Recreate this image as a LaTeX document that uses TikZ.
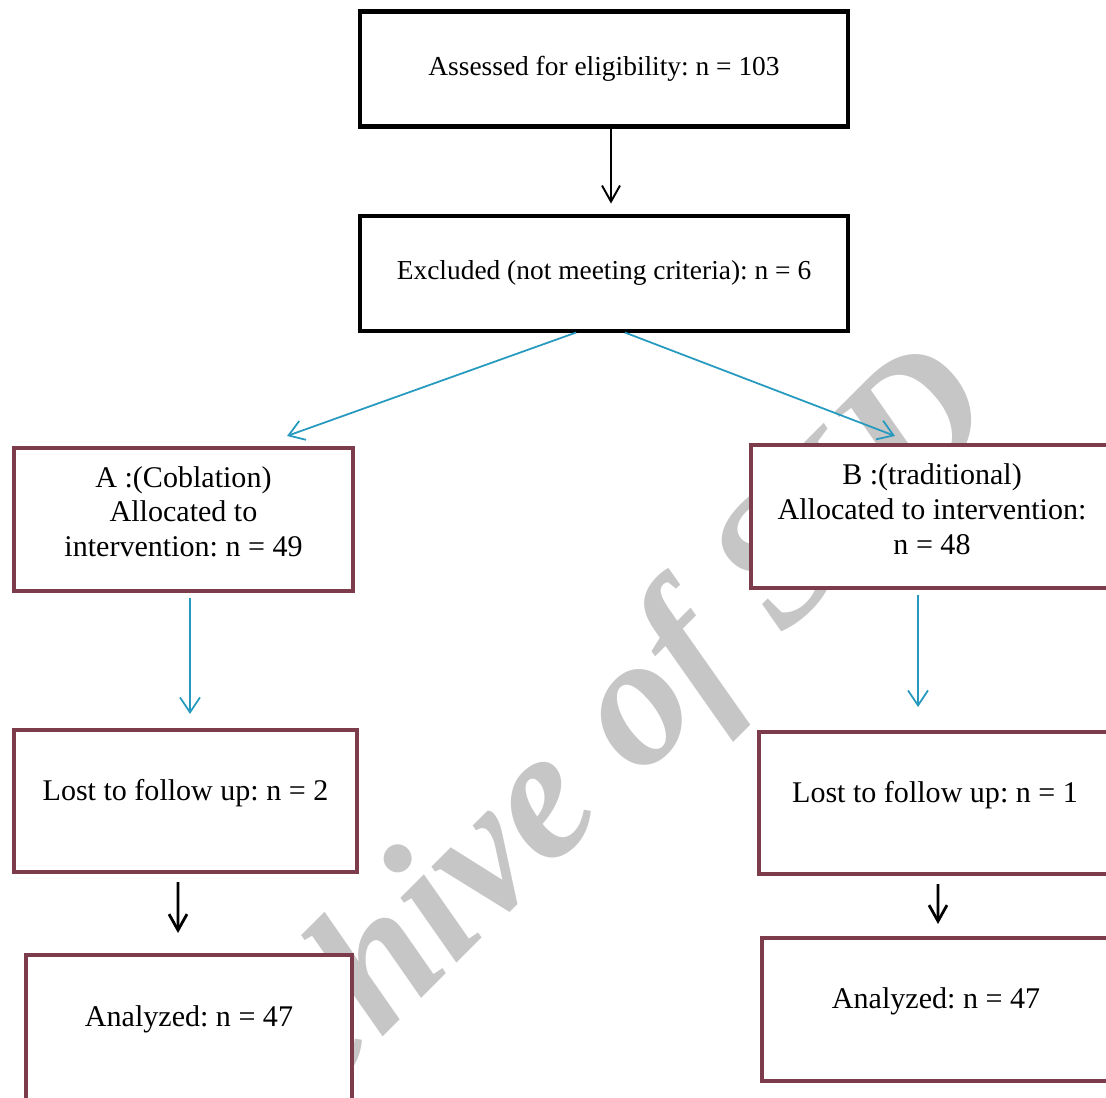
\documentclass[tikz,border=0pt]{standalone}
\usepackage{fontspec}
\setmainfont{Liberation Serif}
\usetikzlibrary{
    arrows.meta,
    positioning,
}
\frenchspacing
\definecolor{StageRed}{RGB}{125,60,75}
\definecolor{FlowTeal}{RGB}{38,154,190}
\definecolor{MarkGray}{RGB}{198,198,198}
\tikzstyle{gate}=[draw=black,fill=white,rectangle,line width=2.3pt,inner sep=0pt,minimum width=9.76cm,minimum height=2.3cm,font=\fontsize{15.6}{18}\selectfont]
\tikzstyle{stage}=[draw=StageRed,fill=white,rectangle,line width=2.3pt,inner sep=0pt]
\tikzstyle{stage_text}=[align=center,inner sep=0pt,font=\fontsize{17.1}{19.9}\selectfont]
\tikzstyle{split}=[FlowTeal,line width=1pt,-{Straight Barb[length=3mm,width=4mm]}]
\tikzstyle{drop}=[black,line width=1.1pt,-{Straight Barb[length=3.2mm,width=3.6mm]}]
\tikzstyle{watermark}=[MarkGray,anchor=base,rotate=45,inner sep=0pt,font=\fontsize{106}{106}\selectfont\bfseries\itshape]
\tikzset{
    >=latex
}
\newcommand{\Stage}[3][]{%
    \node[stage,#1] (#2) {};
    \node[stage_text] (#2 text) at ([yshift=1.55mm]#2.center) {#3};
}

\begin{document}
\begin{tikzpicture}
    \useasboundingbox (0,0) rectangle (22.12,-21.94);
    \clip (0,0) rectangle (22.12,-21.94);

    % watermark behind the boxes
    \node[watermark] (sid mark) at (11.85,-16.55) {Archive of SID};

    % screening
    \node[gate] (Assessed) at (12.08,-1.38) {Assessed for eligibility: n = 103};
    \node[gate,below=1.7cm of Assessed] (Excluded) {Excluded (not meeting criteria): n = 6};

    % groups
    \Stage[at={(3.67,-10.39)},minimum width=6.78cm,minimum height=2.86cm]{Coblation}{A :(Coblation)\\Allocated to\\intervention: n = 49};
    \Stage[at={(18.64,-10.33)},minimum width=7.24cm,minimum height=2.86cm]{Traditional}{B :(traditional)\\Allocated to intervention:\\n = 48};
    \Stage[at={(3.71,-16.02)},minimum width=6.86cm,minimum height=2.84cm]{Lost A}{Lost to follow up: n = 2};
    \Stage[at={(18.70,-16.06)},minimum width=7.04cm,minimum height=2.84cm]{Lost B}{Lost to follow up: n = 1};
    \Stage[at={(3.78,-20.55)},minimum width=6.52cm,minimum height=2.9cm]{Analyzed A}{Analyzed: n = 47};
    \Stage[at={(18.72,-20.19)},minimum width=6.96cm,minimum height=2.86cm]{Analyzed B}{Analyzed: n = 47};

    \draw[drop] ([xshift=1.4mm]Assessed.south) -- ([xshift=1.4mm,yshift=2mm]Excluded.north);
    \draw[split] ([xshift=-5.6mm]Excluded.south) -- ([xshift=20.7mm,yshift=2mm]Coblation.north);
    \draw[split] ([xshift=4.2mm]Excluded.south) -- ([xshift=-7.4mm,yshift=1.4mm]Traditional.north);
    \draw[split] ([xshift=1.3mm,yshift=-1mm]Coblation.south) -- ([xshift=0.9mm,yshift=2.8mm]Lost A.north);
    \draw[split] ([xshift=-2.8mm,yshift=-1mm]Traditional.south) -- ([xshift=-3.4mm,yshift=4.6mm]Lost B.north);
    \draw[drop,line width=1.6pt] ([xshift=-1.5mm,yshift=-1.6mm]Lost A.south) -- ([xshift=-2.2mm,yshift=4mm]Analyzed A.north);
    \draw[drop,line width=1.6pt] ([xshift=0.6mm,yshift=-1.6mm]Lost B.south) -- ([xshift=0.4mm,yshift=2.4mm]Analyzed B.north);
\end{tikzpicture}
\end{document}
